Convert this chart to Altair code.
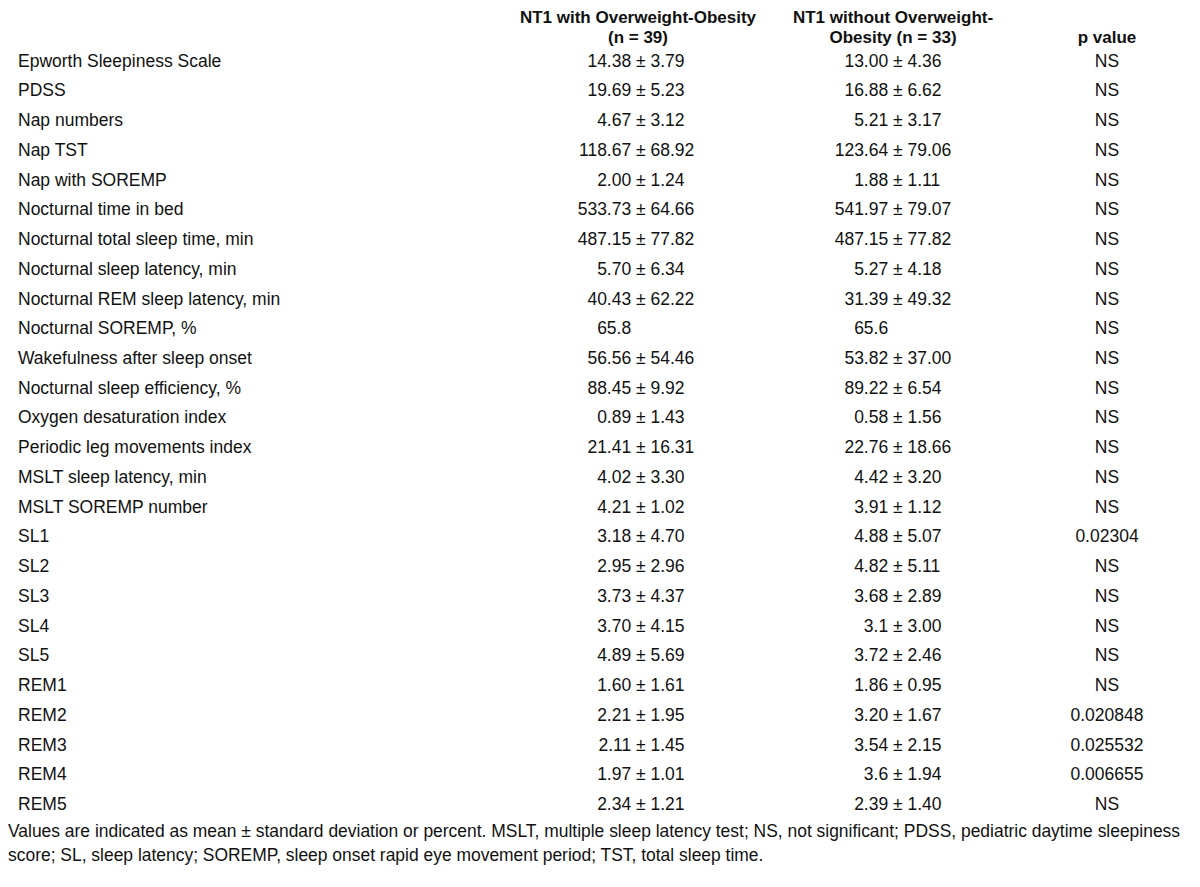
import altair as alt
import pandas as pd

FONT = "Liberation Sans"
FS = 17.5
FS_HEAD = 17
FS_NOTE = 17.45
COLOR = "#111111"

labels = [
    "Epworth Sleepiness Scale", "PDSS", "Nap numbers", "Nap TST", "Nap with SOREMP",
    "Nocturnal time in bed", "Nocturnal total sleep time, min", "Nocturnal sleep latency, min",
    "Nocturnal REM sleep latency, min", "Nocturnal SOREMP, %", "Wakefulness after sleep onset",
    "Nocturnal sleep efficiency, %", "Oxygen desaturation index", "Periodic leg movements index",
    "MSLT sleep latency, min", "MSLT SOREMP number",
    "SL1", "SL2", "SL3", "SL4", "SL5",
    "REM1", "REM2", "REM3", "REM4", "REM5",
]

obese_mean = ["14.38", "19.69", "4.67", "118.67", "2.00", "533.73", "487.15", "5.70", "40.43",
              "65.8", "56.56", "88.45", "0.89", "21.41", "4.02", "4.21",
              "3.18", "2.95", "3.73", "3.70", "4.89", "1.60", "2.21", "2.11", "1.97", "2.34"]
obese_sd = ["3.79", "5.23", "3.12", "68.92", "1.24", "64.66", "77.82", "6.34", "62.22",
            "", "54.46", "9.92", "1.43", "16.31", "3.30", "1.02",
            "4.70", "2.96", "4.37", "4.15", "5.69", "1.61", "1.95", "1.45", "1.01", "1.21"]
nonobese_mean = ["13.00", "16.88", "5.21", "123.64", "1.88", "541.97", "487.15", "5.27", "31.39",
                 "65.6", "53.82", "89.22", "0.58", "22.76", "4.42", "3.91",
                 "4.88", "4.82", "3.68", "3.1", "3.72", "1.86", "3.20", "3.54", "3.6", "2.39"]
nonobese_sd = ["4.36", "6.62", "3.17", "79.06", "1.11", "79.07", "77.82", "4.18", "49.32",
               "", "37.00", "6.54", "1.56", "18.66", "3.20", "1.12",
               "5.07", "5.11", "2.89", "3.00", "2.46", "0.95", "1.67", "2.15", "1.94", "1.40"]
p_values = ["NS"] * 16 + ["0.02304", "NS", "NS", "NS", "NS", "NS",
                          "0.020848", "0.025532", "0.006655", "NS"]

header1 = ["NT1 with Overweight-Obesity", "(n = 39)"]
header2 = ["NT1 without Overweight-", "Obesity (n = 33)"]
header3 = ["p value"]
footnote = [
    "Values are indicated as mean \u00b1 standard deviation or percent. MSLT, multiple sleep latency test; NS, not significant; PDSS, pediatric daytime sleepiness",
    "score; SL, sleep latency; SOREMP, sleep onset rapid eye movement period; TST, total sleep time.",
]

df = pd.DataFrame({
    "label": labels, "m1": obese_mean, "s1": obese_sd,
    "m2": nonobese_mean, "s2": nonobese_sd, "p": p_values,
})

# layout (plot coordinates; page has an 8px margin)
LABEL_X = 10
PM1_X = 628
PM2_X = 885
P_X = 1099
GAP = 4.8
H1_X = 630
H2_X = 885

base = alt.Chart(df).encode(
    y=alt.Y("label:N", scale=alt.Scale(type="point", domain=labels, range=[53.7, 797], padding=0), axis=None)
)

def txt(align="left", bold=False, size=FS):
    return dict(align=align, baseline="middle", font=FONT, fontSize=size, color=COLOR,
                fontWeight="bold" if bold else "normal")

lab = base.mark_text(**txt("left")).encode(x=alt.value(LABEL_X), text="label:N")
m1 = base.mark_text(**txt("right")).encode(x=alt.value(PM1_X - GAP), text="m1:N")
s1 = base.transform_filter("datum.s1 != ''").transform_calculate(t="'\u00b1 ' + datum.s1").mark_text(
    **txt("left")).encode(x=alt.value(PM1_X), text="t:N")
m2 = base.mark_text(**txt("right")).encode(x=alt.value(PM2_X - GAP), text="m2:N")
s2 = base.transform_filter("datum.s2 != ''").transform_calculate(t="'\u00b1 ' + datum.s2").mark_text(
    **txt("left")).encode(x=alt.value(PM2_X), text="t:N")
pv = base.mark_text(**txt("center")).encode(x=alt.value(P_X), text="p:N")

def single(text, x, y, align="center", bold=True, size=FS_HEAD):
    return alt.Chart(pd.DataFrame({"t": [text]})).mark_text(**txt(align, bold, size)).encode(
        text="t:N", x=alt.value(x), y=alt.value(y))

headers = [
    single(header1[0], H1_X, 9.5), single(header1[1], H1_X, 30),
    single(header2[0], H2_X, 9.5), single(header2[1], H2_X, 30),
    single(header3[0], P_X, 30),
]
notes = [single(footnote[0], 0, 824, "left", False, FS_NOTE),
         single(footnote[1], 0, 848, "left", False, FS_NOTE)]

chart = alt.layer(lab, m1, s1, m2, s2, pv, *headers, *notes).properties(
    width=1184, height=871, padding=0, autosize="none"
).configure_view(stroke=None)

chart.save("out.html", embed_options={"renderer": "svg", "actions": False})
